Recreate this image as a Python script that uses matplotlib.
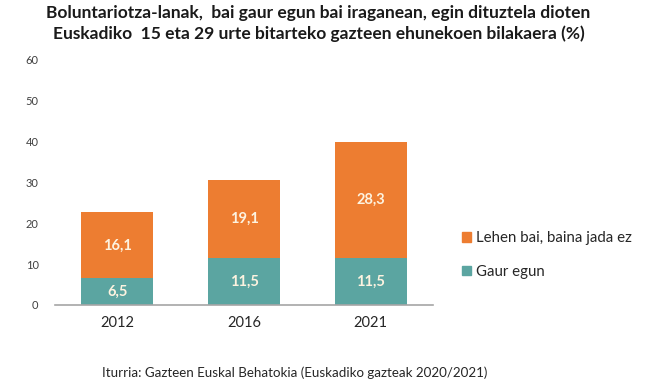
"""
Stacked bar chart: volunteering among young people in Euskadi
"""

import matplotlib
matplotlib.use('Agg')

import numpy as np
import matplotlib.pyplot as plt
from matplotlib.patches import Patch

years = ['2012', '2016', '2021']
gaur_egun = [6.5, 11.5, 11.5]
lehen_bai = [16.1, 19.1, 28.3]
series_names = ['Lehen bai, baina jada ez', 'Gaur egun']

TEAL = '#5ba5a1'
ORANGE = '#ed7d31'
LABEL_COL = '#fdf3e0'


def fmt(v):
    return ('%.1f' % v).replace('.', ',')


def main():
    plt.rcParams['font.family'] = ['Lato', 'DejaVu Sans']

    my_dpi = 100
    fig = plt.figure(figsize=(650/my_dpi, 392/my_dpi), dpi=my_dpi)
    ax = fig.add_axes([0.085, 0.222, 0.581, 0.627])

    x = np.arange(len(years))
    width = 0.567
    ax.bar(x, gaur_egun, width, color=TEAL, zorder=2)
    ax.bar(x, lehen_bai, width, bottom=gaur_egun, color=ORANGE, zorder=2)

    for i in range(len(years)):
        ax.text(x[i], gaur_egun[i]/2, fmt(gaur_egun[i]), ha='center',
                va='center', color=LABEL_COL, fontsize=10.5, fontweight='bold')
        ax.text(x[i], gaur_egun[i] + lehen_bai[i]/2, fmt(lehen_bai[i]),
                ha='center', va='center', color=LABEL_COL, fontsize=10.5,
                fontweight='bold')

    ax.set_xlim(-0.49, 2.49)
    ax.set_ylim(0, 60)
    ax.set_yticks(np.arange(0, 61, 10))
    ax.set_xticks(x)
    ax.set_xticklabels(years, fontsize=10.5, color='#262626')
    ax.tick_params(axis='y', length=0, labelsize=8, labelcolor='#404040', pad=12)
    ax.tick_params(axis='x', length=0, pad=8)
    for s in ['top', 'right', 'left']:
        ax.spines[s].set_visible(False)
    ax.spines['bottom'].set_color('#a6a6a6')
    ax.spines['bottom'].set_linewidth(1.2)

    handles = [Patch(color=ORANGE), Patch(color=TEAL)]
    fig.legend(handles, series_names, loc='center left',
               bbox_to_anchor=(0.69, 0.35), frameon=False, fontsize=10.8,
               handlelength=0.6, handleheight=0.6, handletextpad=0.35,
               labelspacing=1.3, labelcolor='#262626')

    fig.text(0.49, 0.968, 'Boluntariotza-lanak,  bai gaur egun bai iraganean, egin dituztela dioten',
             ha='center', va='center', fontsize=12.5, fontweight='bold', color='#1a1a1a')
    fig.text(0.49, 0.915, 'Euskadiko  15 eta 29 urte bitarteko gazteen ehunekoen bilakaera (%)',
             ha='center', va='center', fontsize=12.5, fontweight='bold', color='#1a1a1a')
    fig.text(0.454, 0.05, 'Iturria: Gazteen Euskal Behatokia (Euskadiko gazteak 2020/2021)',
             ha='center', va='center', fontsize=9.6, color='#262626')

    plt.savefig('out.png', dpi=my_dpi)


if __name__ == "__main__":
    main()
